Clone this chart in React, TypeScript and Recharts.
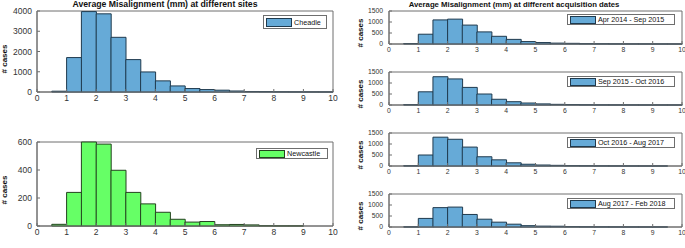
import { Bar, BarChart, Legend, ReferenceArea, XAxis, YAxis } from 'recharts';

// bin centres of the 0.5 mm wide histogram bins, 0 to 10 mm
const binCenters = [
  0.25, 0.75, 1.25, 1.75, 2.25, 2.75, 3.25, 3.75, 4.25, 4.75,
  5.25, 5.75, 6.25, 6.75, 7.25, 7.75, 8.25, 8.75, 9.25, 9.75
];
const xTicks = [0, 1, 2, 3, 4, 5, 6, 7, 8, 9, 10];

const cheadle = [0, 40, 1700, 3970, 3860, 2700, 1600, 990, 550, 300, 170, 120, 90, 50, 25, 20, 10, 6, 4, 3];
const newcastle = [0, 12, 240, 600, 585, 398, 240, 158, 98, 48, 28, 32, 9, 11, 8, 2, 1, 1, 0, 0];
const apr2014 = [0, 20, 445, 1095, 1130, 860, 550, 350, 210, 110, 65, 40, 30, 15, 10, 5, 4, 3, 2, 1];
const sep2015 = [0, 15, 600, 1285, 1185, 800, 500, 260, 150, 90, 50, 30, 20, 10, 5, 4, 3, 2, 1, 1];
const oct2016 = [0, 10, 500, 1310, 1215, 860, 420, 280, 145, 80, 45, 30, 15, 10, 5, 3, 2, 1, 1, 0];
const aug2017 = [0, 5, 390, 880, 905, 570, 355, 220, 128, 60, 40, 35, 15, 8, 5, 3, 2, 1, 1, 0];

const cheadleTicks = [0, 1000, 2000, 3000, 4000];
const newcastleTicks = [0, 200, 400, 600];
const dateTicks = [0, 500, 1000, 1500];

const BLUE = '#66aad7';
const BLUE_EDGE = '#1f3a4e';
const GREEN = '#66ff66';
const GREEN_EDGE = '#24421f';
const AXIS = '#6e6e6e';
const TEXT = '#333';
const FONT = '"Liberation Sans", Arial, sans-serif';

interface HistProps {
  name: string;
  counts: number[];
  yTicks: number[];
  fill: string;
  edge: string;
  left: number;
  top: number;
  width: number;
  plotTop: number;
  plotHeight: number;
  xHeight: number;
  yWidth: number;
  right: number;
  fontSize: number;
  yMargin: number;
  legendTop: number;
  legendRight: number;
  legendWidth: number;
  legendHeight: number;
}

function Hist(p: HistProps) {
  const data = binCenters.map((x, i) => ({ x, n: p.counts[i] }));
  const height = p.plotTop + p.plotHeight + p.xHeight;
  const yMax = p.yTicks[p.yTicks.length - 1];
  const tick = { fontSize: p.fontSize, fill: TEXT };
  const line = { stroke: AXIS, strokeWidth: 1 };

  const legend = () => (
    <div
      style={{
        display: 'flex',
        alignItems: 'center',
        boxSizing: 'border-box',
        width: p.legendWidth,
        height: p.legendHeight,
        border: `1px solid ${AXIS}`,
        background: '#fff',
        padding: '0 2px',
        fontSize: 7.2,
        color: '#111',
        whiteSpace: 'nowrap'
      }}
    >
      <span
        style={{
          display: 'inline-block',
          boxSizing: 'border-box',
          width: 26,
          height: Math.min(9, p.legendHeight - 3),
          background: p.fill,
          border: `1px solid ${p.edge}`,
          marginRight: 2
        }}
      />
      <span>{p.name}</span>
    </div>
  );

  return (
    <div style={{ position: 'absolute', left: p.left, top: p.top }}>
      <BarChart
        width={p.width}
        height={height}
        data={data}
        margin={{ top: p.plotTop, right: p.right, bottom: 0, left: 0 }}
        barCategoryGap={0}
        barGap={0}
      >
        <XAxis
          dataKey="x"
          type="number"
          domain={[0, 10]}
          ticks={xTicks}
          interval={0}
          height={p.xHeight}
          tickSize={-3}
          tickMargin={6}
          tick={tick}
          axisLine={line}
          tickLine={line}
        />
        <XAxis
          xAxisId="top"
          dataKey="x"
          orientation="top"
          type="number"
          domain={[0, 10]}
          ticks={xTicks}
          interval={0}
          height={0}
          tickSize={-3}
          tickFormatter={() => ''}
          axisLine={line}
          tickLine={line}
        />
        <YAxis
          type="number"
          domain={[0, yMax]}
          ticks={p.yTicks}
          interval={0}
          width={p.yWidth}
          tickSize={-3}
          tickMargin={p.yMargin}
          tick={tick}
          axisLine={line}
          tickLine={line}
        />
        <YAxis
          yAxisId="right"
          orientation="right"
          type="number"
          domain={[0, yMax]}
          ticks={p.yTicks}
          interval={0}
          width={0}
          tickSize={-3}
          tickFormatter={() => ''}
          axisLine={line}
          tickLine={line}
        />
        <Legend
          content={legend}
          wrapperStyle={{ top: p.legendTop, right: p.legendRight, left: 'auto', width: 'auto' }}
        />
        <Bar dataKey="n" name={p.name} fill={p.fill} stroke={p.edge} strokeWidth={1} isAnimationActive={false} />
        {/* invisible copy so the top / right axes (inner ticks) get a domain */}
        <Bar
          xAxisId="top"
          yAxisId="right"
          dataKey="n"
          fill="none"
          stroke="none"
          legendType="none"
          isAnimationActive={false}
        />
        {/* plot box, as the MATLAB axes frame */}
        <ReferenceArea x1={0} x2={10} y1={0} y2={yMax} fill="none" stroke={AXIS} strokeWidth={1} ifOverflow="visible" />
      </BarChart>
    </div>
  );
}

function YLabel({ x, y }: { x: number; y: number }) {
  return (
    <div
      style={{
        position: 'absolute',
        left: x,
        top: y,
        transform: 'translate(-50%, -50%) rotate(-90deg)',
        fontSize: 8,
        fontWeight: 'bold',
        color: '#111',
        whiteSpace: 'nowrap',
        lineHeight: 1
      }}
    >
      # cases
    </div>
  );
}

function Title({ x, y, size, text }: { x: number; y: number; size: number; text: string }) {
  return (
    <div
      style={{
        position: 'absolute',
        left: x,
        top: y,
        transform: 'translateX(-50%)',
        fontSize: size,
        fontWeight: 'bold',
        color: '#111',
        whiteSpace: 'nowrap',
        lineHeight: 1
      }}
    >
      {text}
    </div>
  );
}

const left = { left: 0, width: 340, yWidth: 37, right: 7, plotHeight: 95, fontSize: 8.5, yMargin: 8 };
const rightCol = { left: 340, width: 345, yWidth: 49, right: 3, plotHeight: 44, xHeight: 10, fontSize: 6.8, yMargin: 9 };

export default function App() {
  return (
    <div
      style={{
        position: 'absolute',
        left: 0,
        top: 0,
        width: 685,
        height: 248,
        background: '#fff',
        fontFamily: FONT,
        overflow: 'hidden'
      }}
    >
      <Hist {...left} name="Cheadle" counts={cheadle} yTicks={cheadleTicks} fill={BLUE} edge={BLUE_EDGE}
        top={0} plotTop={11} xHeight={18} legendTop={15} legendRight={13} legendWidth={64} legendHeight={14} />
      <Hist {...left} name="Newcastle" counts={newcastle} yTicks={newcastleTicks} fill={GREEN} edge={GREEN_EDGE}
        top={124} plotTop={18} xHeight={11} legendTop={24} legendRight={12} legendWidth={72} legendHeight={11} />

      <Hist {...rightCol} name="Apr 2014 - Sep 2015" counts={apr2014} yTicks={dateTicks} fill={BLUE} edge={BLUE_EDGE}
        top={0} plotTop={11} legendTop={14} legendRight={10} legendWidth={108} legendHeight={11} />
      <Hist {...rightCol} name="Sep 2015 - Oct 2016" counts={sep2015} yTicks={dateTicks} fill={BLUE} edge={BLUE_EDGE}
        top={61} plotTop={11} legendTop={15} legendRight={10} legendWidth={108} legendHeight={11} />
      <Hist {...rightCol} name="Oct 2016 - Aug 2017" counts={oct2016} yTicks={dateTicks} fill={BLUE} edge={BLUE_EDGE}
        top={122} plotTop={11} legendTop={15} legendRight={10} legendWidth={108} legendHeight={11} />
      <Hist {...rightCol} name="Aug 2017 - Feb 2018" counts={aug2017} yTicks={dateTicks} fill={BLUE} edge={BLUE_EDGE}
        top={183} plotTop={11} legendTop={15} legendRight={10} legendWidth={108} legendHeight={11} />

      <Title x={165} y={0} size={8.7} text="Average Misalignment (mm) at different sites" />
      <Title x={514} y={1} size={7.75} text="Average Misalignment (mm) at different acquisition dates" />

      <YLabel x={5} y={59} />
      <YLabel x={5} y={190} />
      <YLabel x={361} y={33} />
      <YLabel x={361} y={94} />
      <YLabel x={361} y={155} />
      <YLabel x={361} y={216} />
    </div>
  );
}
